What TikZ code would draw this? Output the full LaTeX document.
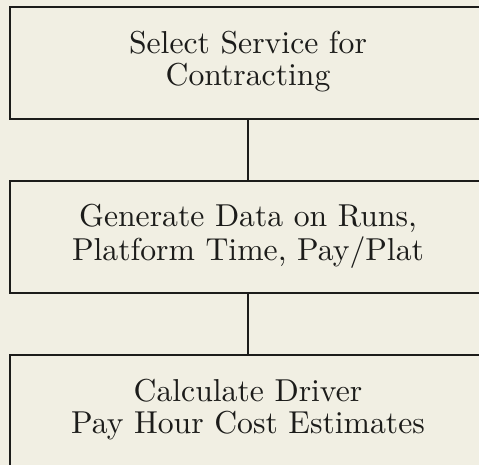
\documentclass[tikz,border=0pt]{standalone}
\usepackage{graphicx}
\definecolor{paper}{RGB}{241,239,227}
\definecolor{ink}{RGB}{28,28,26}
\tikzset{
  stagebox/.style={draw=ink, line width=1.2pt, minimum width=476pt,
    minimum height=112pt, inner sep=0pt, text=ink},
  link/.style={draw=ink, line width=1.1pt}
}
% two centred lines of 10pt roman, enlarged as one block
\newcommand{\stagetext}[2]{\scalebox{3.17}{\def\arraystretch{0.82}%
  \begin{tabular}{@{}c@{}}#1\\#2\end{tabular}}}
\begin{document}
\begin{tikzpicture}[x=1pt,y=-1pt]
  \fill[paper] (0,0) rectangle (479,465);
  \useasboundingbox (0,0) rectangle (479,465);
  \clip (0,0) rectangle (479,465);
  \node[stagebox] (select) at (248,63)
    {\stagetext{Select Service for}{Contracting}};
  \node[stagebox] (generate) at (248,237)
    {\stagetext{Generate Data on Runs,}{Platform Time, Pay/Plat}};
  \node[stagebox] (calc) at (248,411)
    {\stagetext{Calculate Driver}{Pay Hour Cost Estimates}};
  \draw[link] (select.south) -- (generate.north);
  \draw[link] (generate.south) -- (calc.north);
\end{tikzpicture}
\end{document}
